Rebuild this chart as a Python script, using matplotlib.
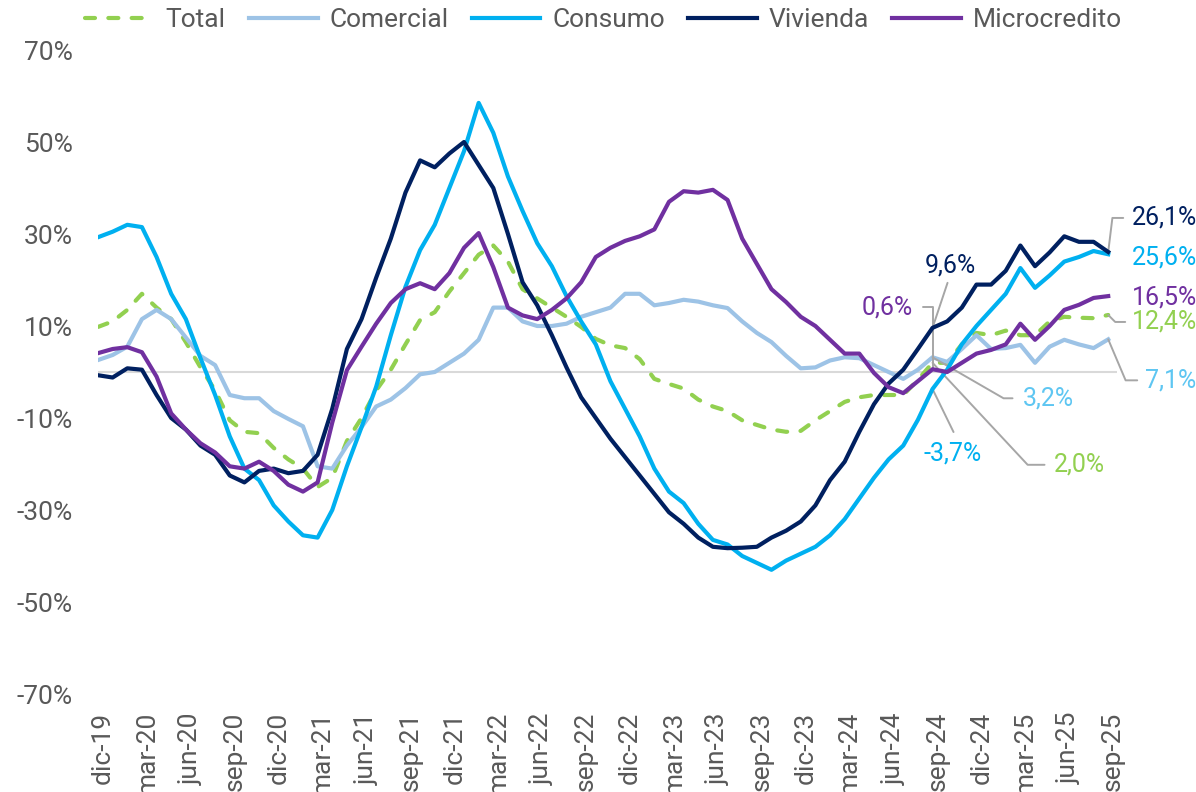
"""Variación anual de la cartera por modalidad (dic-19 a sep-25)."""
import matplotlib
matplotlib.use("Agg")
import matplotlib.pyplot as plt
from matplotlib.transforms import ScaledTranslation

plt.rcParams["font.family"] = ["Roboto", "DejaVu Sans"]

# datos mensuales dic-19 .. sep-25 (%)
total = [9.8, 11.0, 13.5, 17.0, 14.0, 11.5, 6.5, 1.0, -4.0, -10.5,
         -13.0, -13.3, -16.5, -19.0, -21.0, -25.0, -23.0, -15.0, -10.0, -4.0,
         0.5, 6.0, 11.3, 13.0, 17.5, 21.5, 25.5, 27.5, 24.0, 18.0,
         16.0, 14.0, 12.0, 9.8, 7.2, 5.8, 5.2, 2.8, -1.5, -2.6,
         -3.6, -6.0, -7.5, -8.5, -10.5, -11.5, -12.5, -13.0, -12.8, -10.5,
         -8.5, -6.5, -5.5, -5.0, -5.0, -5.0, -1.7, 2.0, 2.0, 6.0,
         8.5, 8.0, 9.0, 8.0, 8.0, 11.0, 12.0, 11.8, 11.7, 12.4]
comercial = [2.6, 3.7, 5.5, 11.5, 13.5, 11.5, 7.5, 3.5, 1.5, -5.0,
             -5.7, -5.7, -8.5, -10.2, -11.8, -20.5, -21.0, -16.0, -12.0, -7.5,
             -6.0, -3.5, -0.5, 0.0, 2.0, 4.0, 7.0, 14.0, 14.0, 11.0,
             10.0, 10.0, 10.5, 12.0, 13.0, 14.0, 17.0, 17.0, 14.5, 15.0,
             15.7, 15.3, 14.5, 13.9, 11.0, 8.5, 6.5, 3.5, 0.8, 1.0,
             2.5, 3.2, 3.0, 1.5, 0.0, -1.5, 0.5, 3.2, 2.2, 5.0,
             8.0, 5.0, 5.2, 5.9, 2.0, 5.5, 7.0, 6.0, 5.2, 7.1]
consumo = [29.3, 30.5, 32.0, 31.5, 25.0, 17.0, 11.5, 3.0, -5.0, -14.0,
           -21.0, -23.5, -29.0, -32.5, -35.5, -36.0, -30.0, -20.5, -12.0, -3.2,
           8.0, 18.5, 26.5, 32.0, 40.0, 48.0, 58.5, 52.0, 42.5, 35.0,
           28.0, 23.0, 16.5, 11.0, 6.0, -2.0, -8.0, -14.0, -21.0, -26.0,
           -28.5, -33.0, -36.5, -37.5, -40.0, -41.5, -43.0, -41.0, -39.5, -38.0,
           -35.5, -32.0, -27.5, -23.0, -19.0, -16.0, -10.4, -3.7, 0.5, 6.0,
           10.0, 13.5, 17.0, 22.6, 18.3, 21.0, 24.0, 25.0, 26.3, 25.6]
vivienda = [-0.7, -1.2, 0.8, 0.5, -5.0, -10.0, -12.5, -16.0, -18.0, -22.5,
            -24.0, -21.5, -21.0, -22.0, -21.5, -18.0, -8.0, 5.0, 11.5, 20.5,
            29.0, 39.0, 46.0, 44.5, 47.5, 50.0, 45.0, 40.0, 30.0, 19.5,
            14.5, 8.0, 1.0, -5.5, -10.0, -14.5, -18.5, -22.5, -26.5, -30.5,
            -33.0, -36.0, -38.0, -38.3, -38.2, -38.0, -36.0, -34.5, -32.5, -29.0,
            -23.5, -19.5, -13.0, -7.0, -2.5, 0.5, 5.0, 9.6, 11.0, 14.0,
            19.0, 19.0, 22.0, 27.5, 23.0, 26.0, 29.5, 28.3, 28.3, 26.1]
microcredito = [4.1, 5.0, 5.4, 4.3, -1.0, -9.0, -12.5, -15.5, -17.5, -20.5,
                -21.0, -19.5, -21.5, -24.5, -26.0, -24.0, -11.0, 0.4, 5.5, 10.5,
                15.0, 18.0, 19.3, 18.0, 21.5, 27.0, 30.2, 22.8, 14.0, 12.3,
                11.5, 13.5, 16.0, 19.5, 25.0, 27.0, 28.5, 29.5, 31.0, 37.0,
                39.3, 39.0, 39.6, 37.4, 29.0, 23.5, 18.0, 15.2, 12.0, 10.0,
                7.0, 4.0, 4.0, -0.2, -3.3, -4.6, -2.0, 0.6, 0.0, 2.0,
                4.0, 4.8, 6.0, 10.5, 7.0, 10.0, 13.5, 14.6, 16.1, 16.5]

tick_labels = ["dic-19", "mar-20", "jun-20", "sep-20", "dic-20", "mar-21",
               "jun-21", "sep-21", "dic-21", "mar-22", "jun-22", "sep-22",
               "dic-22", "mar-23", "jun-23", "sep-23", "dic-23", "mar-24",
               "jun-24", "sep-24", "dic-24", "mar-25", "jun-25", "sep-25"]

C_TOTAL = "#92D050"
C_COM = "#9DC3E6"
C_CONS = "#00B0F0"
C_VIV = "#002060"
C_MICRO = "#7030A0"
C_COM_TXT = "#5EC6F2"
GRAY = "#595959"
LEADER = "#A6A6A6"

x = list(range(len(total)))

fig = plt.figure(figsize=(11.96, 7.92), dpi=100)
ax = fig.add_axes([98 / 1196, 98 / 792, 1019 / 1196, 644 / 792])

ax.axhline(0, color="#D9D9D9", lw=1.5, zorder=1)
ax.plot(x, total, color=C_TOTAL, lw=3, dashes=(2.4, 3.2),
        dash_capstyle="round", label="Total", zorder=2)
ax.plot(x, comercial, color=C_COM, lw=3, label="Comercial", zorder=3,
        solid_joinstyle="round")
ax.plot(x, consumo, color=C_CONS, lw=3, label="Consumo", zorder=4,
        solid_joinstyle="round")
ax.plot(x, vivienda, color=C_VIV, lw=3, label="Vivienda", zorder=5,
        solid_joinstyle="round")
ax.plot(x, microcredito, color=C_MICRO, lw=3, label="Microcredito", zorder=6,
        solid_joinstyle="round")

ax.set_xlim(0, 69.6)
ax.set_ylim(-70, 70)
ax.set_yticks(range(-70, 71, 20))
ax.set_yticklabels([f"{v}%" for v in range(-70, 71, 20)])
ax.set_xticks(range(0, len(total), 3))
ax.set_xticklabels(tick_labels, rotation=90, va="top", ha="center")
ax.tick_params(axis="y", length=0, pad=18, labelsize=19, labelcolor=GRAY)
ax.tick_params(axis="x", length=0, pad=13, labelsize=19, labelcolor=GRAY)
# etiquetas del eje x ligeramente a la derecha, como en el original
shift = ScaledTranslation(5 / 100, 0, fig.dpi_scale_trans)
for lbl in ax.get_xticklabels():
    lbl.set_transform(lbl.get_transform() + shift)
for s in ax.spines.values():
    s.set_visible(False)


def label(m, v, text, color, off, ha="left", leader=None):
    ax.annotate(text, xy=(m, v), xytext=off, textcoords="offset pixels",
                ha=ha, va="center", fontsize=18, color=color,
                annotation_clip=False)
    if leader is not None:
        start, conn = leader
        ax.annotate("", xy=(m, v), xytext=start, textcoords="offset pixels",
                    annotation_clip=False,
                    arrowprops=dict(arrowstyle="-", color=LEADER, lw=1.4,
                                    shrinkA=0, shrinkB=0, connectionstyle=conn))


last = len(total) - 1
sep24 = 57
label(last, vivienda[last], "26,1%", C_VIV, (24, 34),
      leader=((15, 34), "angle,angleA=0,angleB=83,rad=0"))
label(last, consumo[last], "25,6%", C_CONS, (24, -3))
label(last, microcredito[last], "16,5%", C_MICRO, (24, -1))
label(last, total[last], "12,4%", C_TOTAL, (24, -7),
      leader=((17, -7), "angle,angleA=0,angleB=-45,rad=0"))
label(last, comercial[last], "7,1%", C_COM_TXT, (37, -41),
      leader=((29, -41), "angle,angleA=0,angleB=-67,rad=0"))

label(sep24, vivienda[sep24], "9,6%", C_VIV, (18, 62), ha="center",
      leader=((15, 45), "arc3,rad=0"))
label(sep24, microcredito[sep24], "0,6%", C_MICRO, (-20, 62), ha="right",
      leader=((-10, 62), "angle,angleA=0,angleB=90,rad=0"))
label(sep24, comercial[sep24], "3,2%", C_COM_TXT, (90, -41),
      leader=((80, -41), "angle,angleA=0,angleB=-30,rad=0"))
label(sep24, consumo[sep24], "-3,7%", C_CONS, (20, -64), ha="center",
      leader=((21, -43), "arc3,rad=0"))
label(sep24, total[sep24], "2,0%", C_TOTAL, (121, -102),
      leader=((112, -102), "angle,angleA=0,angleB=-47,rad=0"))

fig.legend(loc="center", bbox_to_anchor=(0.5046, 1 - 20 / 792), ncol=5,
           frameon=False, fontsize=19, labelcolor=GRAY, handlelength=2.6,
           handletextpad=0.45, columnspacing=0.88, borderaxespad=0)

fig.savefig("out.png", dpi=100)
